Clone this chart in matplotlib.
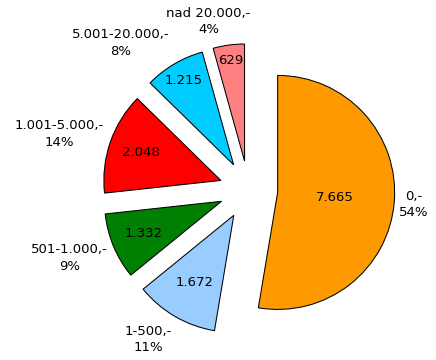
import numpy as np
import matplotlib
matplotlib.use("Agg")
import matplotlib.pyplot as plt

# slices in drawing order (clockwise from 12 o'clock)
CATEGORIES = ["0,-", "1-500,-", "501-1.000,-", "1.001-5.000,-", "5.001-20.000,-", "nad 20.000,-"]
VALUES = [7665, 1672, 1332, 2048, 1215, 629]
VALUE_LABELS = ["7.665", "1.672", "1.332", "2.048", "1.215", "629"]
PERCENT_LABELS = ["54%", "11%", "9%", "14%", "8%", "4%"]
COLORS = ["#FF9900", "#99CCFF", "#008000", "#FF0000", "#00CCFF", "#FF8080"]

# label placement (style): distance from slice apex in radii, angle tweak in degrees
INNER_DIST = [0.49, 0.66, 0.72, 0.72, 0.84, 0.87]
OUTER_DIST = [1.17, 1.29, 1.39, 1.44, 1.42, 1.23]
OUTER_TWEAK = [-0.4, -4.4, -2.2, 3.1, 12.3, 6.7]

W, H = 436, 360
R_PX = 117.0
CX, CY = 248.5, 190.0

plt.rcParams["font.family"] = ["DejaVu Sans"]

fig = plt.figure(figsize=(W / 100, H / 100), dpi=100)
ax = fig.add_axes([0, 0, 1, 1])

wedges, _ = ax.pie(
    VALUES,
    colors=COLORS,
    startangle=90,
    counterclock=False,
    explode=[0.25] * len(VALUES),
    wedgeprops=dict(edgecolor="black", linewidth=0.75),
)

for w, val_txt, cat, pct, di, do, tw in zip(
    wedges, VALUE_LABELS, CATEGORIES, PERCENT_LABELS, INNER_DIST, OUTER_DIST, OUTER_TWEAK
):
    mid = np.deg2rad((w.theta1 + w.theta2) / 2)
    x0, y0 = w.center
    ax.text(x0 + di * np.cos(mid), y0 + di * np.sin(mid), val_txt,
            ha="center", va="center", fontsize=9.5, color="black")
    a = mid + np.deg2rad(tw)
    ax.text(x0 + do * np.cos(a), y0 + do * np.sin(a), f"{cat}\n{pct}",
            ha="center", va="center", fontsize=9.5, color="black", linespacing=1.35)

ax.set_aspect("equal")
ax.set_xlim(-CX / R_PX, (W - CX) / R_PX)
ax.set_ylim(-(H - CY) / R_PX, CY / R_PX)
ax.axis("off")

fig.savefig("out.png", dpi=100)
